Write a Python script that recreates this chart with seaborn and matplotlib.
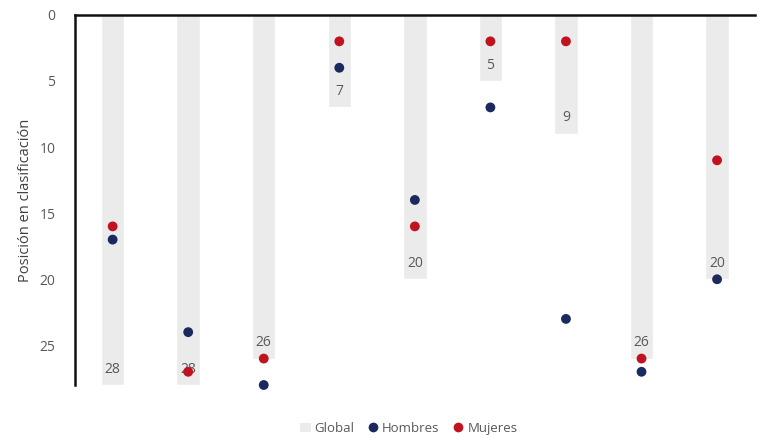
import matplotlib
matplotlib.use("Agg")
import matplotlib.pyplot as plt
from matplotlib.lines import Line2D
from matplotlib.patches import Patch
import seaborn as sns
import pandas as pd

categories = ["C1", "C2", "C3", "C4", "C5", "C6", "C7", "C8", "C9"]
global_rank = [28, 28, 26, 7, 20, 5, 9, 26, 20]
hombres = [17, 24, 28, 4, 14, 7, 23, 27, 20]
mujeres = [16, 27, 26, 2, 16, 2, 2, 26, 11]

sns.set_theme(style="white")
plt.rcParams["font.family"] = ["Open Sans", "DejaVu Sans"]

GRAY_TXT = "#595959"
BAR = "#ebebeb"
NAVY = "#1b2a5e"
RED = "#c1121f"

df = pd.DataFrame({"cat": categories, "Global": global_rank,
                   "Hombres": hombres, "Mujeres": mujeres})

fig = plt.figure(figsize=(7.64, 4.38), dpi=100)
ax = fig.add_axes([0.098, 0.121, 0.89, 0.845])

sns.barplot(data=df, x="cat", y="Global", color=BAR, width=0.31,
            saturation=1, ax=ax, zorder=1)
sns.scatterplot(data=df, x="cat", y="Hombres", color=NAVY, s=50,
                edgecolor="none", ax=ax, zorder=3, clip_on=False)
sns.scatterplot(data=df, x="cat", y="Mujeres", color=RED, s=50,
                edgecolor="none", ax=ax, zorder=4, clip_on=False)

for i, v in enumerate(global_rank):
    ax.text(i, v - 1.2, str(v), ha="center", va="center", fontsize=10,
            color=GRAY_TXT, zorder=2)

ax.set_xlim(-0.5, 8.5)
ax.set_ylim(28, 0)
ax.set_yticks([0, 5, 10, 15, 20, 25])
ax.tick_params(axis="y", length=0, labelsize=10, labelcolor=GRAY_TXT, pad=14)
ax.set_xticks(range(len(categories)))
ax.set_xticklabels([])
ax.tick_params(axis="x", length=0)
ax.set_xlabel("")
ax.set_ylabel("Posición en clasificación", fontsize=10.5, color="#404040")
ax.yaxis.set_label_coords(-0.062, 0.5)

for s in ["bottom", "right"]:
    ax.spines[s].set_visible(False)
for s in ["top", "left"]:
    ax.spines[s].set_color("#111111")
    ax.spines[s].set_linewidth(1.8)

handles = [
    Patch(facecolor=BAR, edgecolor="none", label="Global"),
    Line2D([], [], marker="o", linestyle="none", markersize=7,
           markerfacecolor=NAVY, markeredgecolor="none", label="Hombres"),
    Line2D([], [], marker="o", linestyle="none", markersize=7,
           markerfacecolor=RED, markeredgecolor="none", label="Mujeres"),
]
leg = fig.legend(handles=handles, loc="center", bbox_to_anchor=(0.535, 0.022),
                 ncol=3, frameon=False, fontsize=9.5, handlelength=0.8,
                 handletextpad=0.3, columnspacing=1.0)
for t in leg.get_texts():
    t.set_color(GRAY_TXT)

fig.savefig("out.png", dpi=100)
